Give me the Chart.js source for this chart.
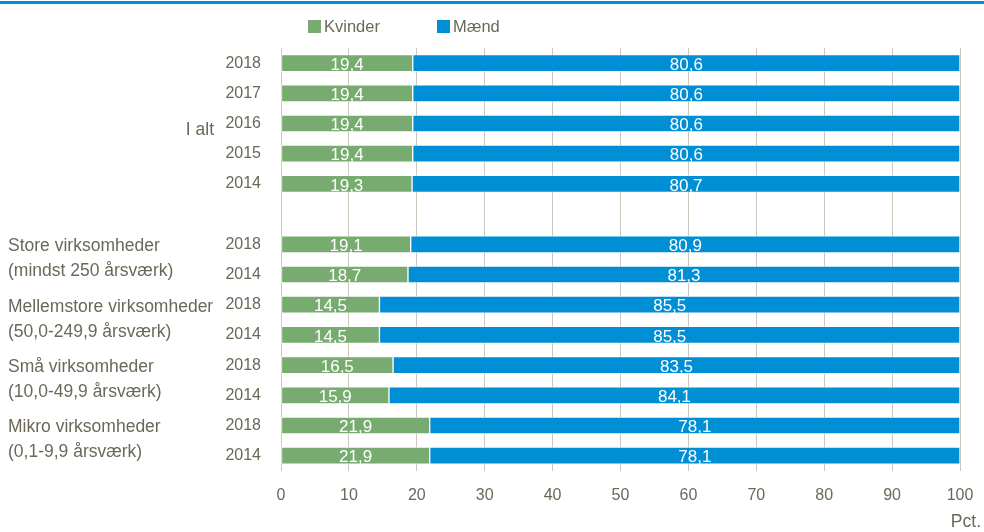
<!DOCTYPE html>
<html>
<head>
<meta charset="utf-8">
<script src="https://cdn.jsdelivr.net/npm/chart.js@4.4.0/dist/chart.umd.min.js"></script>
<style>
  html, body { margin: 0; padding: 0; background: #fff; }
  #wrap { width: 984px; height: 532px; position: relative; }
</style>
</head>
<body>
<div id="wrap"><canvas id="chart"></canvas></div>
<script>
// rows top to bottom, '' is the blank spacer row
const rowLabels = ['2018', '2017', '2016', '2015', '2014', '', '2018', '2014', '2018', '2014', '2018', '2014', '2018', '2014'];
const kvinder = [19.4, 19.4, 19.4, 19.4, 19.3, null, 19.1, 18.7, 14.5, 14.5, 16.5, 15.9, 21.9, 21.9];
const maend = [80.6, 80.6, 80.6, 80.6, 80.7, null, 80.9, 81.3, 85.5, 85.5, 83.5, 84.1, 78.1, 78.1];
const seriesNames = ['Kvinder', 'Mænd'];
const xTicks = [0, 10, 20, 30, 40, 50, 60, 70, 80, 90, 100];
const groupNames = [
  ['Store virksomheder', '(mindst 250 årsværk)'],
  ['Mellemstore virksomheder', '(50,0-249,9 årsværk)'],
  ['Små virksomheder', '(10,0-49,9 årsværk)'],
  ['Mikro virksomheder', '(0,1-9,9 årsværk)']
];
const groupStart = [6, 8, 10, 12];
const totalName = 'I alt';
const unitLabel = 'Pct.';

const FONT = '"Liberation Sans", Arial, sans-serif';
const TXT = '#6b6859';
const GREEN = '#77ab6f';
const BLUE = '#008fd5';

const fmt = v => v.toFixed(1).replace('.', ',');

// top rule, legend, group names, value labels, unit
const decorations = {
  id: 'decorations',
  beforeDraw(chart) {
    const ctx = chart.ctx;
    ctx.save();
    ctx.fillStyle = BLUE;
    ctx.fillRect(0, 1, chart.width, 3);
    ctx.restore();
  },
  afterDatasetsDraw(chart) {
    const ctx = chart.ctx;
    ctx.save();
    ctx.font = '17px ' + FONT;
    ctx.fillStyle = '#fff';
    ctx.textAlign = 'center';
    ctx.textBaseline = 'middle';
    chart.data.datasets.forEach((ds, i) => {
      chart.getDatasetMeta(i).data.forEach((bar, j) => {
        if (ds.data[j] == null) return;
        const cx = (bar.x + bar.base) / 2;
        ctx.fillText(fmt(ds.data[j]), cx, bar.y + 2);
      });
    });
    ctx.restore();
  },
  afterDraw(chart) {
    const ctx = chart.ctx;
    const y = chart.scales.y;
    ctx.save();
    ctx.fillStyle = TXT;
    ctx.textBaseline = 'middle';

    // legend
    ctx.font = '16.5px ' + FONT;
    const legendX = [308, 437];
    chart.data.datasets.forEach((ds, i) => {
      ctx.fillStyle = ds.backgroundColor;
      ctx.fillRect(legendX[i], 20, 13, 13);
      ctx.fillStyle = TXT;
      ctx.textAlign = 'left';
      ctx.fillText(ds.label, legendX[i] + 16, 27);
    });

    // group names
    ctx.font = '17.5px ' + FONT;
    ctx.textAlign = 'right';
    ctx.fillText(totalName, 214, y.getPixelForValue(2) + 7);
    ctx.textAlign = 'left';
    groupNames.forEach((lines, g) => {
      const mid = (y.getPixelForValue(groupStart[g]) + y.getPixelForValue(groupStart[g] + 1)) / 2;
      ctx.fillText(lines[0], 8, mid - 13);
      ctx.fillText(lines[1], 8, mid + 12);
    });

    // unit
    ctx.textAlign = 'right';
    ctx.fillText(unitLabel, 981, 522);
    ctx.restore();
  }
};

new Chart(document.getElementById('chart'), {
  type: 'bar',
  data: {
    labels: rowLabels,
    datasets: [
      { label: seriesNames[0], data: kvinder, backgroundColor: GREEN, borderColor: 'rgba(255,255,255,0.5)', borderWidth: 1, borderSkipped: false },
      { label: seriesNames[1], data: maend, backgroundColor: BLUE, borderColor: 'rgba(255,255,255,0.5)', borderWidth: 1, borderSkipped: false }
    ]
  },
  options: {
    indexAxis: 'y',
    responsive: true,
    maintainAspectRatio: false,
    animation: false,
    layout: { padding: { left: 0, right: 24, top: 48, bottom: 12 } },
    datasets: { bar: { barThickness: 17 } },
    plugins: {
      legend: { display: false },
      tooltip: { enabled: false }
    },
    scales: {
      x: {
        stacked: true,
        min: 0,
        max: 100,
        afterBuildTicks: s => { s.ticks = xTicks.map(v => ({ value: v })); },
        afterFit: s => { s.paddingLeft = 0; s.paddingRight = 0; },
        grid: { color: '#ccc8bc', lineWidth: 1, drawTicks: false },
        border: { display: false },
        ticks: { color: TXT, font: { family: FONT, size: 16 }, padding: 15 }
      },
      y: {
        stacked: true,
        grid: { display: false },
        border: { display: false },
        afterFit: s => { s.width = 281; },
        ticks: { color: TXT, font: { family: FONT, size: 16 }, padding: 12 }
      }
    }
  },
  plugins: [decorations]
});
</script>
</body>
</html>
